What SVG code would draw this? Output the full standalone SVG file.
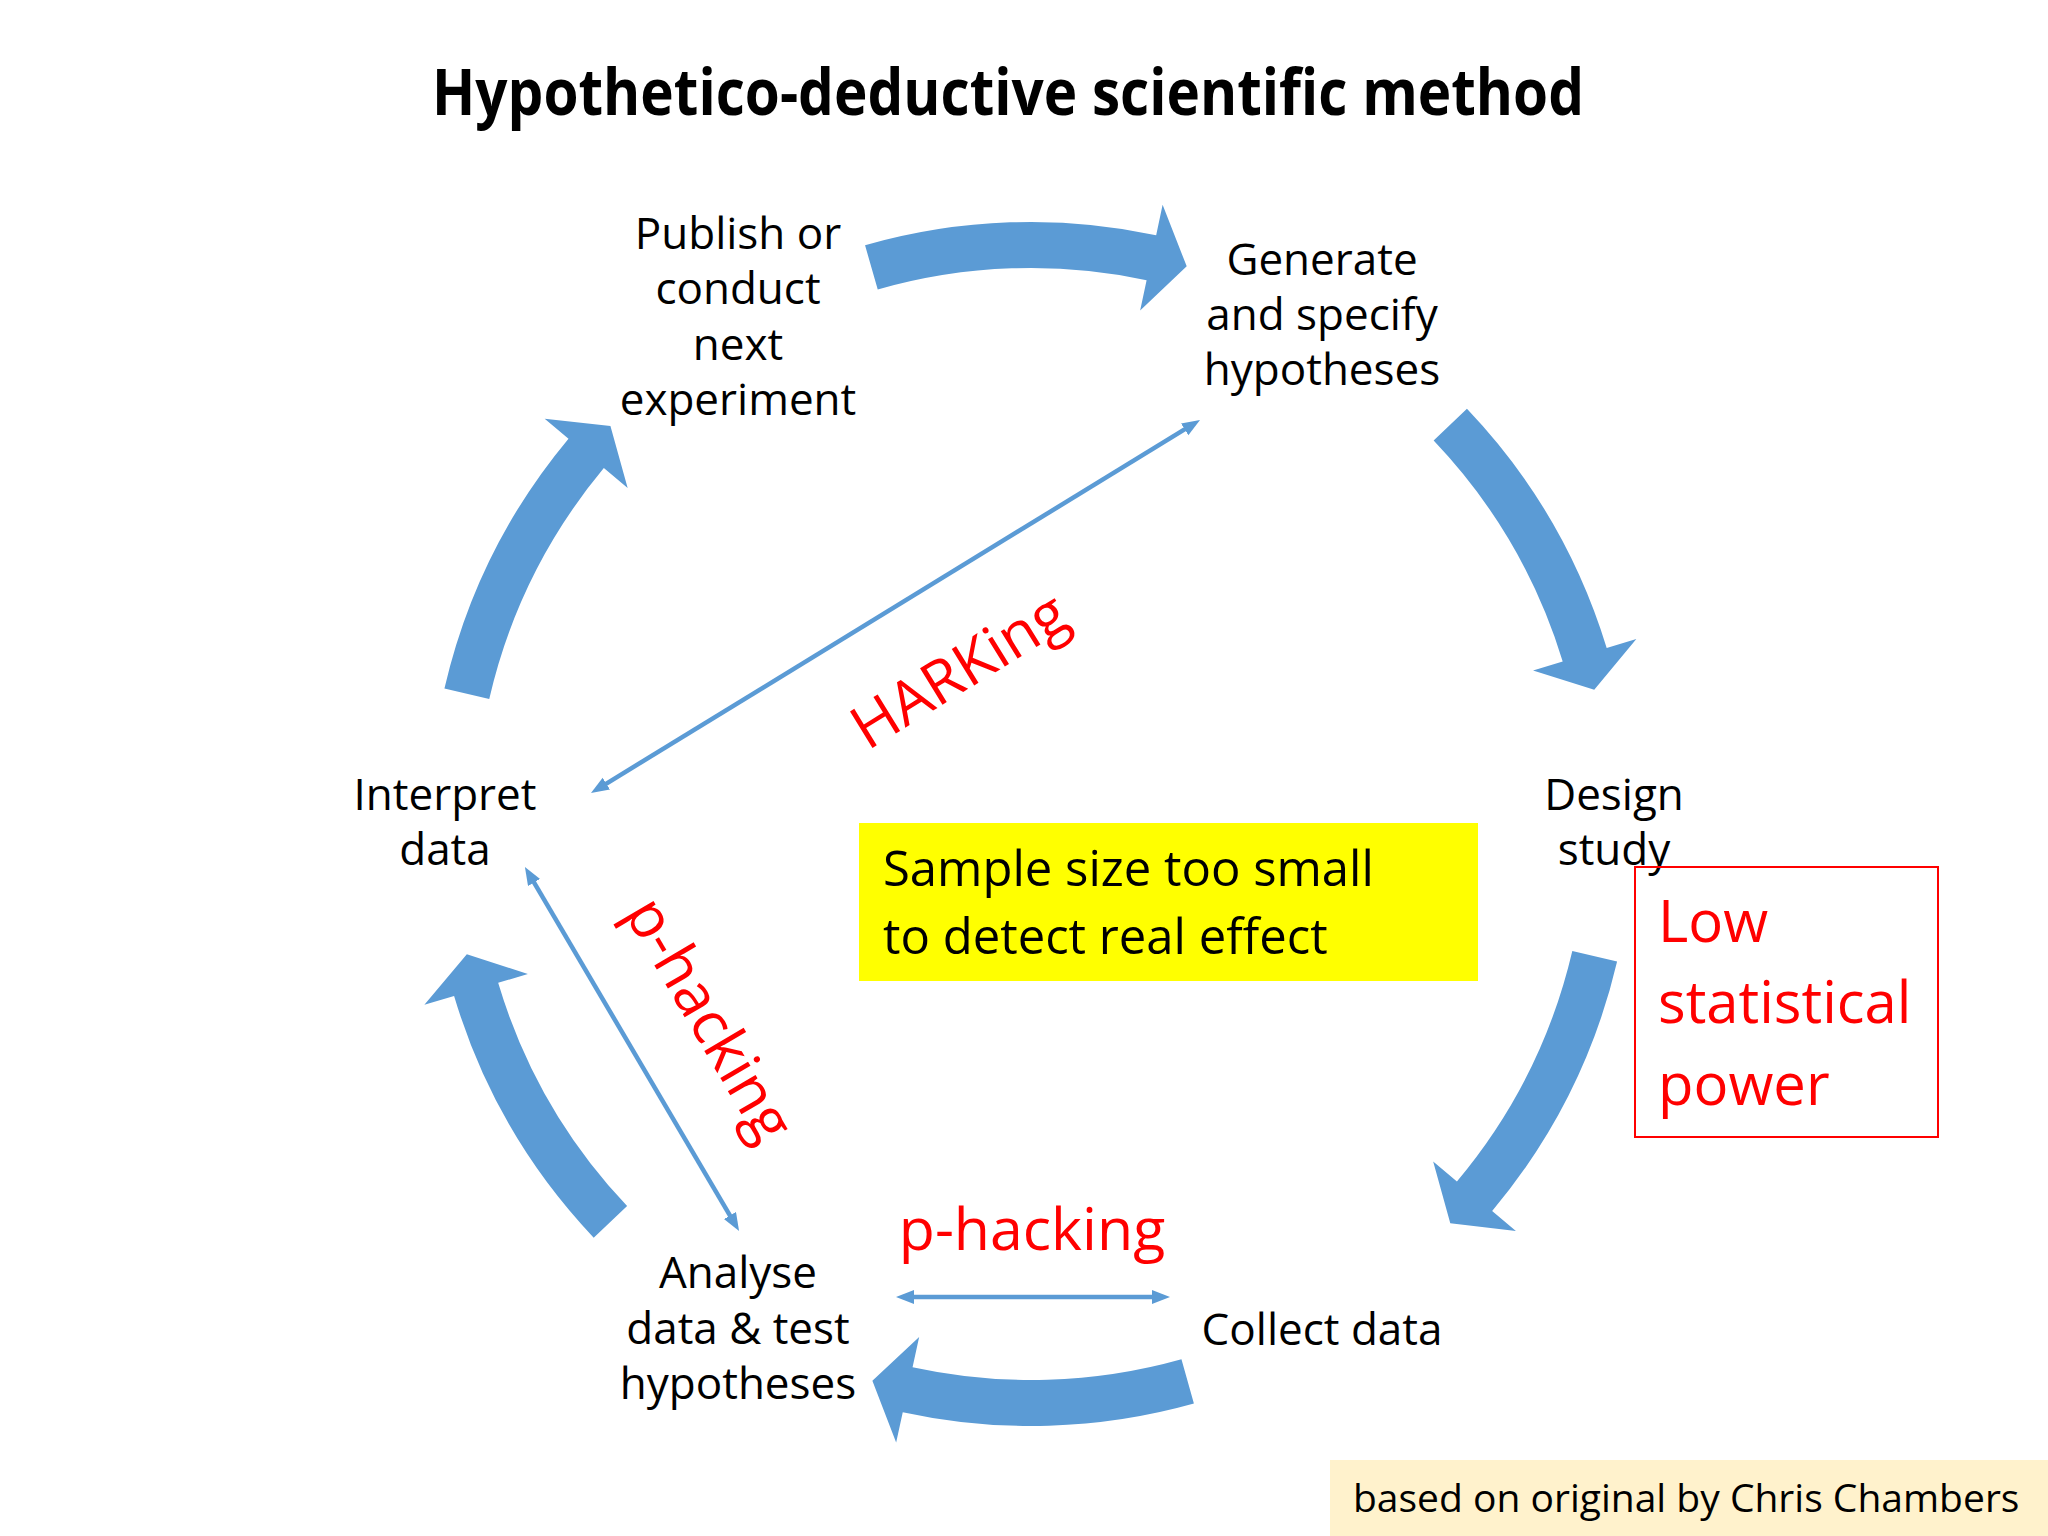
<svg xmlns="http://www.w3.org/2000/svg" width="2048" height="1536" viewBox="0 0 2048 1536">
  <style>
    .node { font-family: "Open Sans", "Noto Sans", "Liberation Sans", sans-serif; font-size: 44px; fill: #000000; text-anchor: middle; }
    .red { font-family: "Open Sans", "Noto Sans", "Liberation Sans", sans-serif; fill: #FF0000; }
    .big { fill: #5B9BD5; }
    .thin { stroke: #5B9BD5; stroke-width: 4.5; fill: none; marker-start: url(#ah); marker-end: url(#ah); }
  </style>
  <defs>
    <marker id="ah" markerUnits="userSpaceOnUse" markerWidth="20" markerHeight="16" refX="8" refY="7" orient="auto-start-reverse" viewBox="0 0 20 16">
      <path d="M0,0 L18,7 L0,14 Z" fill="#5B9BD5"/>
    </marker>
  </defs>
  <rect x="0" y="0" width="2048" height="1536" fill="#FFFFFF"/>

  <g id="title">
    <text x="1008" y="115" font-family="'Open Sans', 'Noto Sans', 'Liberation Sans', sans-serif" font-weight="bold" font-size="64" text-anchor="middle" textLength="1152" lengthAdjust="spacingAndGlyphs" fill="#000000">Hypothetico-deductive scientific method</text>
  </g>

  <g id="cycle-arrows">
    <path class="big" d="M865.06,245.32 A602,602 0 0 1 1156.16,235.15 L1162.61,204.83 L1186.70,266.33 L1140.15,310.47 L1146.60,280.15 A556,556 0 0 0 877.74,289.54 Z"/>
    <path class="big" d="M1466.95,408.85 A602,602 0 0 1 1606.69,647.99 L1636.34,638.93 L1594.24,689.82 L1533.06,670.51 L1562.70,661.44 A556,556 0 0 0 1433.64,440.57 Z"/>
    <path class="big" d="M1617.10,961.47 A602,602 0 0 1 1492.16,1210.96 L1515.90,1230.89 L1450.29,1223.29 L1433.17,1161.46 L1456.92,1181.39 A556,556 0 0 0 1572.31,950.96 Z"/>
    <path class="big" d="M1193.90,1403.54 A602,602 0 0 1 902.76,1412.18 L896.15,1442.47 L872.38,1380.85 L919.16,1336.95 L912.56,1367.24 A556,556 0 0 0 1181.45,1359.26 Z"/>
    <path class="big" d="M593.70,1237.71 A602,602 0 0 1 454.09,995.99 L424.38,1004.84 L466.84,954.25 L527.88,973.99 L498.17,982.84 A556,556 0 0 0 627.11,1206.10 Z"/>
    <path class="big" d="M444.43,688.58 A602,602 0 0 1 568.50,438.65 L544.68,418.81 L610.43,426.06 L627.65,487.94 L603.84,468.10 A556,556 0 0 0 489.25,698.93 Z"/>
  </g>

  <g id="connectors">
    <line class="thin" x1="599.5" y1="787.8" x2="1191.5" y2="425.2"/>
    <line class="thin" x1="530" y1="875.6" x2="734" y2="1222.4"/>
    <line class="thin" x1="906" y1="1297" x2="1160" y2="1297"/>
  </g>

  <g id="publish">
    <text class="node" x="738" y="249">Publish or</text>
    <text class="node" x="738" y="304">conduct</text>
    <text class="node" x="738" y="360">next</text>
    <text class="node" x="738" y="415">experiment</text>
  </g>
  <g id="generate">
    <text class="node" x="1322" y="275">Generate</text>
    <text class="node" x="1322" y="330">and specify</text>
    <text class="node" x="1322" y="385">hypotheses</text>
  </g>
  <g id="design">
    <text class="node" x="1614" y="810">Design</text>
    <text class="node" x="1614" y="865">study</text>
  </g>
  <g id="collect">
    <text class="node" x="1322" y="1345">Collect data</text>
  </g>
  <g id="analyse">
    <text class="node" x="738" y="1288">Analyse</text>
    <text class="node" x="738" y="1344">data &amp; test</text>
    <text class="node" x="738" y="1399">hypotheses</text>
  </g>
  <g id="interpret">
    <text class="node" x="445" y="810">Interpret</text>
    <text class="node" x="445" y="865">data</text>
  </g>

  <g id="sample-size">
    <rect x="859" y="823" width="619" height="158" fill="#FFFF00"/>
    <text x="883" y="886" font-family="'Open Sans', 'Noto Sans', 'Liberation Sans', sans-serif" font-size="49" fill="#000000">Sample size too small</text>
    <text x="883" y="954" font-family="'Open Sans', 'Noto Sans', 'Liberation Sans', sans-serif" font-size="49" fill="#000000">to detect real effect</text>
  </g>

  <g id="low-power">
    <rect x="1635" y="867" width="303" height="270" fill="none" stroke="#FF0000" stroke-width="2"/>
    <text class="red" x="1658" y="942" font-size="58">Low</text>
    <text class="red" x="1658" y="1023" font-size="58">statistical</text>
    <text class="red" x="1658" y="1105" font-size="58">power</text>
  </g>

  <g id="harking-label">
    <text class="red" transform="translate(959,670) rotate(-31.6)" x="0" y="21" font-size="60" text-anchor="middle">HARKing</text>
  </g>
  <g id="phacking-diag-label">
    <text class="red" transform="translate(710,1019) rotate(59.6)" x="0" y="21" font-size="60" text-anchor="middle">p-hacking</text>
  </g>
  <g id="phacking-horiz-label">
    <text class="red" x="1032" y="1250" font-size="59" text-anchor="middle">p-hacking</text>
  </g>

  <g id="attribution">
    <rect x="1330" y="1460" width="718" height="76" fill="#FFF2CC"/>
    <text x="1353" y="1512" font-family="'Open Sans', 'Noto Sans', 'Liberation Sans', sans-serif" font-size="39" fill="#000000">based on original by Chris Chambers</text>
  </g>
</svg>
